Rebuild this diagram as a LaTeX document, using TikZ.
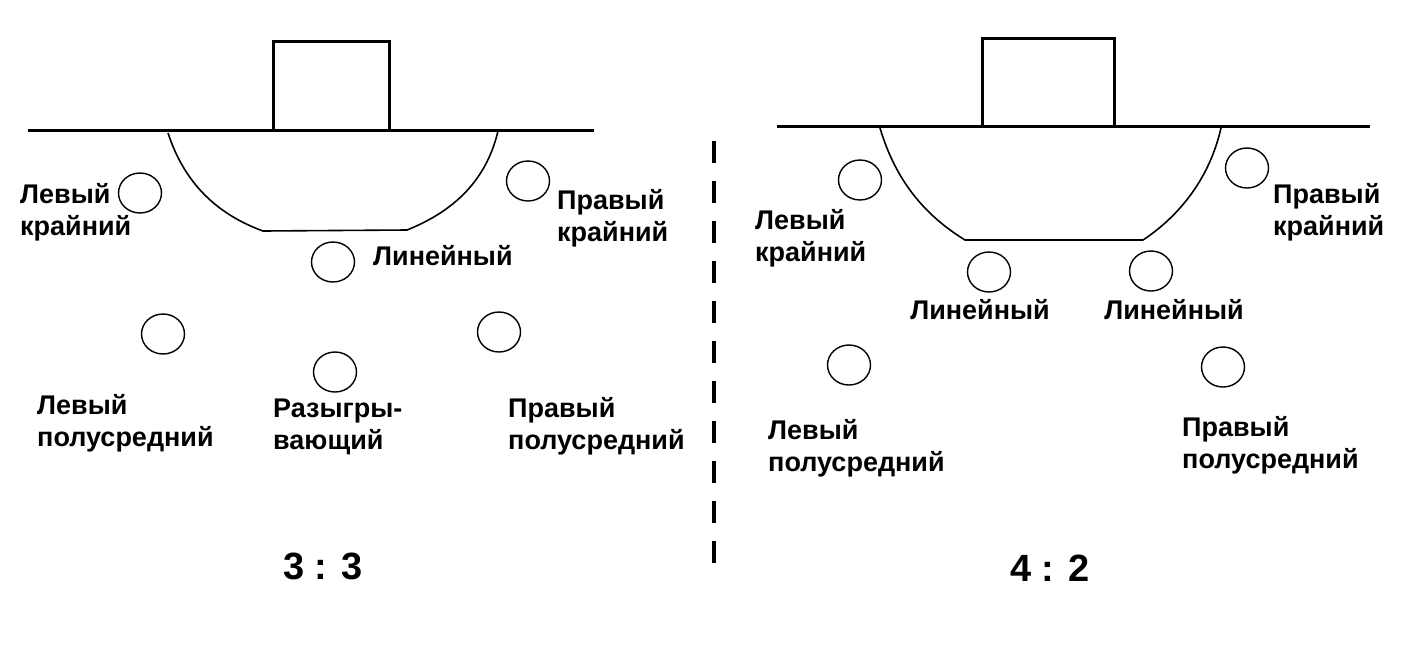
\documentclass[tikz,border=0pt]{standalone}
\usepackage{fontspec}
\setmainfont{Liberation Sans}
\usetikzlibrary{shapes.geometric}
\begin{document}
\begin{tikzpicture}[x=1pt,y=-1pt,
  player/.style={draw,line width=1.4pt,ellipse,minimum width=43pt,minimum height=40pt,inner sep=0pt},
  lbl/.style={align=left,inner sep=0pt,font=\fontsize{27}{32}\selectfont\bfseries,anchor=west},
  lblc/.style={align=center,inner sep=0pt,font=\fontsize{27}{32}\selectfont\bfseries},
  score/.style={inner sep=0pt,font=\fontsize{38}{44}\selectfont\bfseries},
  goalline/.style={line width=3pt},
  zone/.style={line width=1.6pt},
  divider/.style={line width=4pt,dash pattern=on 22pt off 18pt}]
\useasboundingbox (0,0) rectangle (1410,670);
% ---------- left panel 3:3 ----------
\draw[goalline] (28,130) -- (594,130);
\draw[goalline] (273,130) -- (273,41) -- (389,41) -- (389,130);
\draw[zone] (168,133) .. controls (186,188) and (222,216) .. (263,231) -- (407,230) .. controls (452,212) and (486,182) .. (498,131);
\node[player] (lk1) at (140,193) {};
\node[player] (pk1) at (528,181) {};
\node[player] (ln1) at (333,262) {};
\node[player] (lp1) at (163,334) {};
\node[player] (rz1) at (335,372) {};
\node[player] (pp1) at (499,332) {};
\node[lbl] (tlk1) at (20,212) {Левый\\крайний};
\node[lbl] (tpk1) at (557,218) {Правый\\крайний};
\node[lbl] (tln1) at (373,256) {Линейный};
\node[lbl] (tlp1) at (37,423) {Левый\\полусредний};
\node[lbl] (trz1) at (273,427) {Разыгры-\\вающий};
\node[lbl] (tpp1) at (508,426) {Правый\\полусредний};
\node[score] (s1) at (323,566) {3 : 3};
% ---------- divider ----------
\coordinate (dtop) at (714,141);
\coordinate (dbot) at (714,572);
\draw[divider] (dtop) -- (dbot);
% ---------- right panel 4:2 ----------
\draw[goalline] (777,126) -- (1370,126);
\draw[goalline] (982,126) -- (982,38) -- (1114,38) -- (1114,126);
\draw[zone] (880,128) .. controls (896,182) and (926,216) .. (965,240) -- (1143,240) .. controls (1182,214) and (1210,176) .. (1221,128);
\node[player] (lk2) at (860,180) {};
\node[player] (pk2) at (1247,168) {};
\node[player] (ln2) at (989,272) {};
\node[player] (ln3) at (1151,271) {};
\node[player] (lp2) at (849,365) {};
\node[player] (pp2) at (1223,367) {};
\node[lbl] (tlk2) at (755,238) {Левый\\крайний};
\node[lbl] (tpk2) at (1273,212) {Правый\\крайний};
\node[lblc] (tln2) at (980,310) {Линейный};
\node[lblc] (tln3) at (1174,310) {Линейный};
\node[lbl] (tlp2) at (768,448) {Левый\\полусредний};
\node[lbl] (tpp2) at (1182,445) {Правый\\полусредний};
\node[score] (s2) at (1050,568) {4 : 2};
\end{tikzpicture}
\end{document}
